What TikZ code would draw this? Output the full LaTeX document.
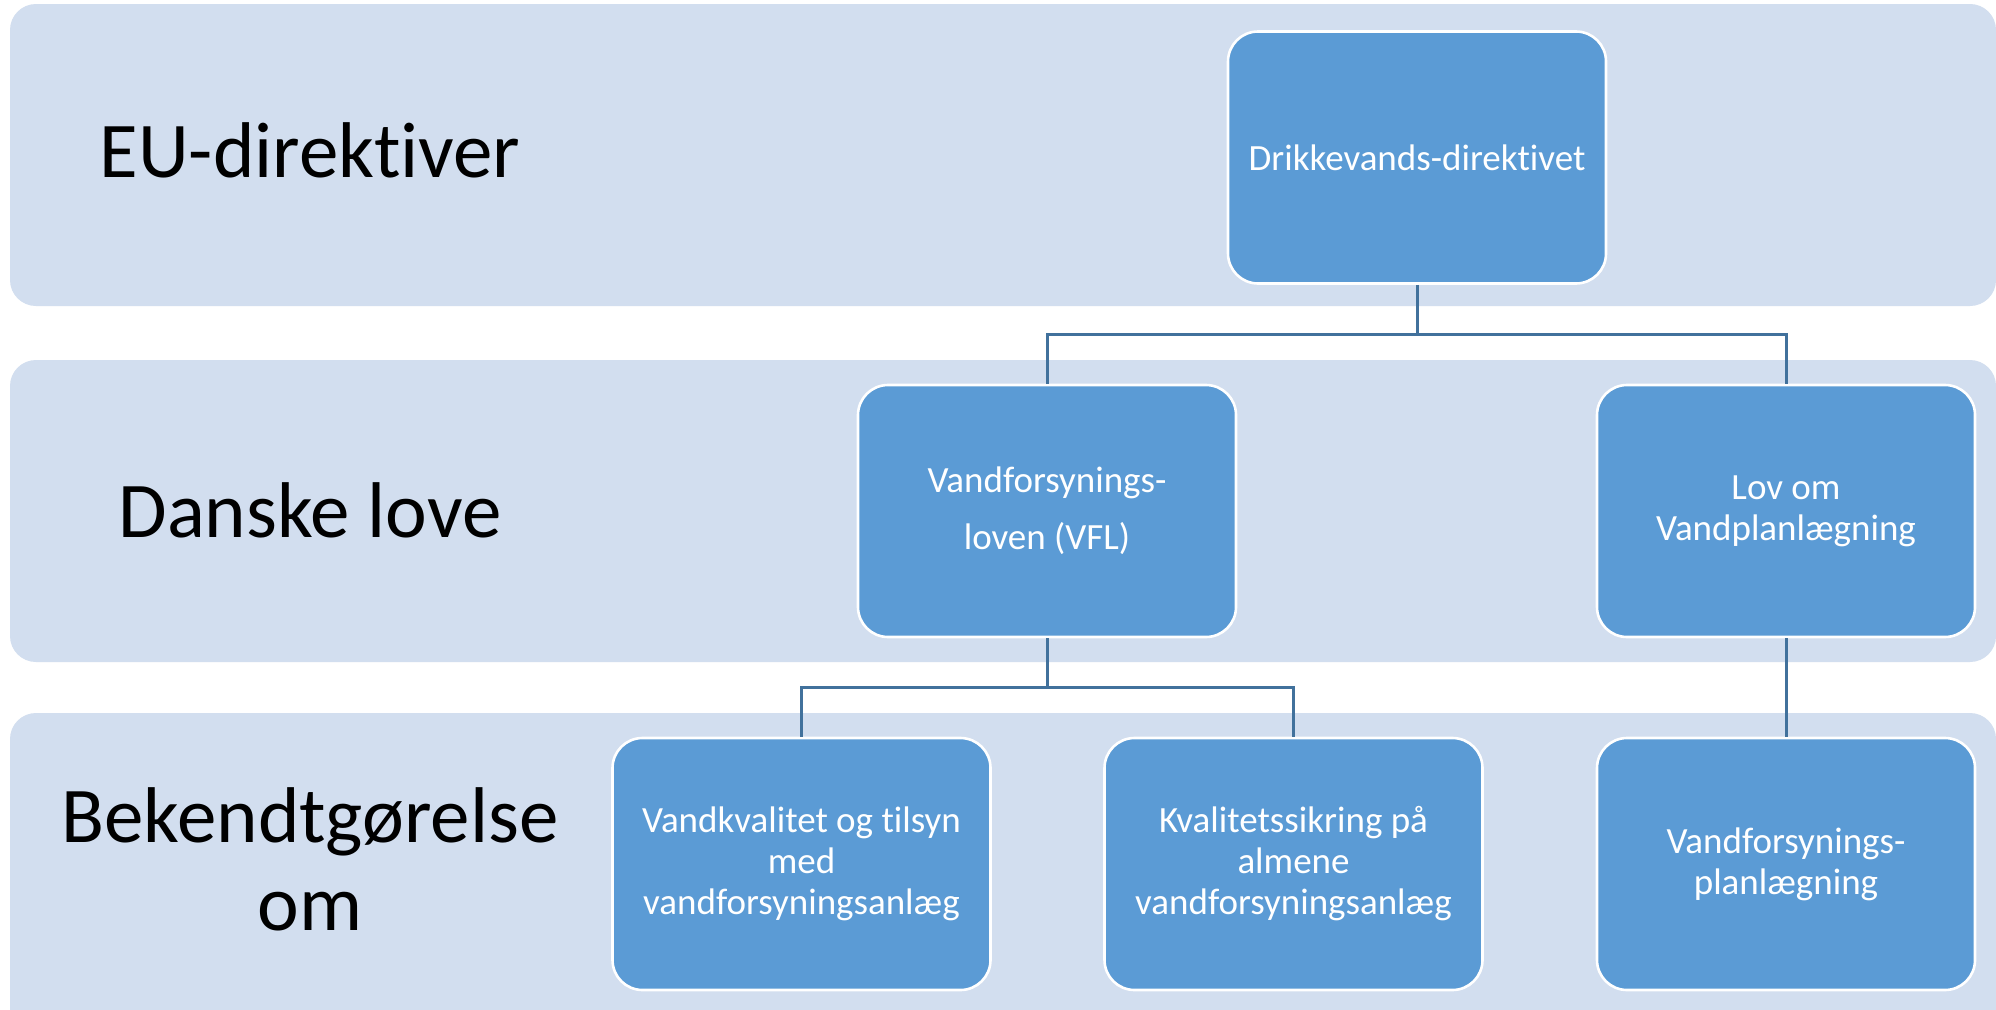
\documentclass[tikz,border=0pt]{standalone}
\usepackage{fontspec}
\setmainfont{Carlito}[Ligatures=NoCommon]
\definecolor{bandfill}{HTML}{D2DEEF}
\definecolor{boxfill}{HTML}{5B9BD5}
\definecolor{connclr}{HTML}{41719C}
\begin{document}
\begin{tikzpicture}[x=1pt,y=-1pt,
  band/.style={fill=bandfill,draw=none,rounded corners=26pt},
  orgbox/.style={draw=white,line width=2.6pt,fill=boxfill,rounded corners=30pt,
     minimum width=378pt,minimum height=252pt,inner sep=0pt,text=white,align=center,
     font=\fontsize{37}{41}\selectfont},
  lbl/.style={text=black,align=center,inner sep=0pt,font=\fontsize{79}{88}\selectfont},
  conn/.style={draw=connclr,line width=3pt}]
\useasboundingbox (0,0) rectangle (1996,1009);
\clip (0,0) rectangle (1996,1009);
\fill[white] (0,0) rectangle (1996,1009);
% bands
\path[band] (10,4) rectangle (1996,306);
\path[band] (10,360) rectangle (1996,662);
\path[band] (10,713) rectangle (1996,1040);
% labels
\node[lbl,anchor=base] (l1) at (310,177) {EU-direktiver};
\node[lbl,anchor=base] (l2) at (310,537) {Danske love};
\node[lbl,anchor=base] (l3) at (310,930) {Bekendtgørelse\\om};
% boxes
\node[orgbox] (D) at (1417,157.5) {Drikkevands-direktivet};
\node[orgbox,font=\fontsize{37}{57}\selectfont] (VFL) at (1047,511) {Vandforsynings-\\loven (VFL)};
\node[orgbox] (LOV) at (1786,511) {Lov om\\Vandplanlægning};
\node[orgbox] (VK) at (801.5,864) {Vandkvalitet og tilsyn\\med\\vandforsyningsanlæg};
\node[orgbox] (KV) at (1293.5,864) {Kvalitetssikring på\\almene\\vandforsyningsanlæg};
\node[orgbox] (PL) at (1786,864) {Vandforsynings-\\planlægning};
% connectors
\coordinate (j1) at (1417,334);
\coordinate (j2) at (1047,687);
\draw[conn] (D.south) -- (j1) -| (VFL.north);
\draw[conn] (j1) -| (LOV.north);
\draw[conn] (VFL.south) -- (j2) -| (VK.north);
\draw[conn] (j2) -| (KV.north);
\draw[conn] (LOV.south) -- (PL.north);
\end{tikzpicture}
\end{document}
